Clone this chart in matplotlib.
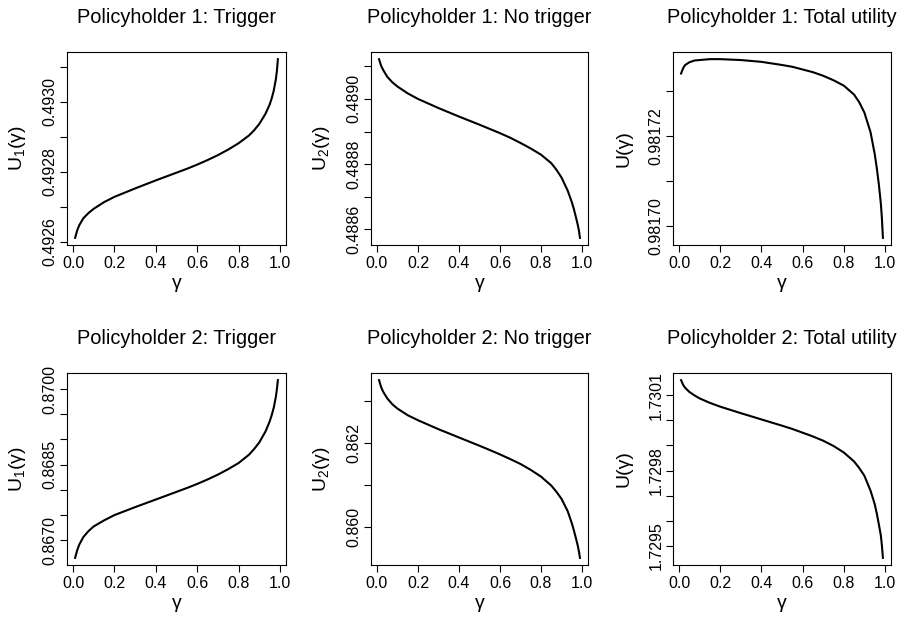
import matplotlib.pyplot as plt
import numpy as np

plt.rcParams['font.family'] = ['Liberation Sans', 'DejaVu Sans']
plt.rcParams['mathtext.fontset'] = 'custom'
plt.rcParams['mathtext.rm'] = 'Liberation Sans'

gamma = [0.01, 0.02, 0.03, 0.05, 0.075, 0.1, 0.15, 0.2, 0.3, 0.4, 0.5,
         0.55, 0.6, 0.65, 0.7, 0.75, 0.8, 0.85, 0.875, 0.9, 0.93, 0.95,
         0.96, 0.97, 0.98, 0.985, 0.99]

p1_trigger = [0.492612, 0.492633, 0.492648, 0.492668, 0.492683, 0.492695,
              0.492714, 0.492729, 0.492753, 0.492776, 0.492798, 0.492809,
              0.492821, 0.492834, 0.492848, 0.492864, 0.492882, 0.492904,
              0.492919, 0.492937, 0.492966, 0.492992, 0.493010, 0.493032,
              0.493064, 0.493087, 0.493122]
p1_notrigger = [0.489122, 0.489102, 0.489089, 0.489068, 0.489051, 0.489038,
                0.489017, 0.489000, 0.488972, 0.488946, 0.488921, 0.488908,
                0.488895, 0.488881, 0.488865, 0.488848, 0.488829, 0.488803,
                0.488783, 0.488759, 0.488719, 0.488684, 0.488663, 0.488638,
                0.488612, 0.488596, 0.488574]
p1_total = [0.9817340, 0.9817352, 0.9817359, 0.9817365, 0.9817369, 0.9817370,
            0.9817372, 0.9817372, 0.9817370, 0.9817366, 0.9817359, 0.9817355,
            0.9817349, 0.9817343, 0.9817335, 0.9817325, 0.9817313, 0.9817293,
            0.9817276, 0.9817253, 0.9817209, 0.9817161, 0.9817130, 0.9817094,
            0.9817050, 0.9817018, 0.9816974]
p2_trigger = [0.866651, 0.866803, 0.866914, 0.867066, 0.867184, 0.867276,
              0.867395, 0.867500, 0.867658, 0.867809, 0.867961, 0.868037,
              0.868118, 0.868207, 0.868303, 0.868412, 0.868533, 0.868697,
              0.868810, 0.868941, 0.869158, 0.869355, 0.869480, 0.869632,
              0.869842, 0.869990, 0.870178]
p2_notrigger = [0.863496, 0.863331, 0.863220, 0.863062, 0.862920, 0.862818,
                0.862660, 0.862541, 0.862328, 0.862131, 0.861934, 0.861833,
                0.861728, 0.861617, 0.861500, 0.861360, 0.861200, 0.860987,
                0.860840, 0.860671, 0.860379, 0.860095, 0.859925, 0.859740,
                0.859542, 0.859415, 0.859266]
p2_total = [1.730161, 1.730142, 1.730130, 1.730114, 1.730100, 1.730088,
            1.730070, 1.730055, 1.730029, 1.730004, 1.729979, 1.729966,
            1.729951, 1.729936, 1.729919, 1.729898, 1.729872, 1.729836,
            1.729810, 1.729779, 1.729719, 1.729666, 1.729629, 1.729586,
            1.729540, 1.729500, 1.729451]

titles = ['Policyholder 1: Trigger', 'Policyholder 1: No trigger',
          'Policyholder 1: Total utility', 'Policyholder 2: Trigger',
          'Policyholder 2: No trigger', 'Policyholder 2: Total utility']
ylabels = [r'$\mathrm{U}_1$(γ)', r'$\mathrm{U}_2$(γ)', 'U(γ)',
           r'$\mathrm{U}_1$(γ)', r'$\mathrm{U}_2$(γ)', 'U(γ)']
series = [p1_trigger, p1_notrigger, p1_total,
          p2_trigger, p2_notrigger, p2_total]

# y ticks, and the labels R actually printed on them
yticks = [
    [0.4926, 0.4927, 0.4928, 0.4929, 0.4930, 0.4931],
    [0.4886, 0.4887, 0.4888, 0.4889, 0.4890, 0.4891],
    [0.98170, 0.98171, 0.98172, 0.98173],
    [0.8670, 0.8675, 0.8680, 0.8685, 0.8690, 0.8695, 0.8700],
    [0.860, 0.861, 0.862, 0.863],
    [1.7295, 1.7296, 1.7297, 1.7298, 1.7299, 1.7300, 1.7301],
]
ytick_text = [
    ['0.4926', '', '0.4928', '', '0.4930', ''],
    ['0.4886', '', '0.4888', '', '0.4890', ''],
    ['0.98170', '', '0.98172', ''],
    ['0.8670', '', '', '0.8685', '', '', '0.8700'],
    ['0.860', '', '0.862', ''],
    ['1.7295', '', '', '1.7298', '', '', '1.7301'],
]

W, H = 905, 618
fig = plt.figure(figsize=(W / 100, H / 100), dpi=100)

lefts = [67, 371, 673]
widths = [219, 217, 218]
tops = [52, 373]
heights = [193, 192]

for i in range(6):
    r, c = divmod(i, 3)
    ax = fig.add_axes([lefts[c] / W, 1 - (tops[r] + heights[r]) / H,
                       widths[c] / W, heights[r] / H])
    y = np.array(series[i])
    ax.plot(gamma, y, color='black', lw=1.5, solid_joinstyle='round')

    # R-style 4% padding
    x0, x1 = min(gamma), max(gamma)
    dx = (x1 - x0) * 0.04
    ax.set_xlim(x0 - dx, x1 + dx)
    dy = (y.max() - y.min()) * 0.04
    ax.set_ylim(y.min() - dy, y.max() + dy)

    ax.set_xticks([0.0, 0.2, 0.4, 0.6, 0.8, 1.0])
    ax.set_xticklabels(['0.0', '0.2', '0.4', '0.6', '0.8', '1.0'])
    ax.set_yticks(yticks[i])
    ax.set_yticklabels(ytick_text[i], rotation=90, va='center')
    ax.tick_params(axis='both', direction='out', length=5, width=0.8,
                   labelsize=11.5, color='black')
    ax.tick_params(axis='x', pad=3)
    ax.tick_params(axis='y', pad=2)
    for s in ax.spines.values():
        s.set_linewidth(0.8)

    ax.set_title(titles[i], fontsize=14.4, pad=21)
    ax.set_xlabel('γ', fontsize=14, va='center')
    ax.xaxis.set_label_coords(0.5, -38 / heights[r])
    ax.set_ylabel(ylabels[i], fontsize=14, va='center')
    ax.yaxis.set_label_coords(-(67 - 18) / widths[c], 0.5)

fig.savefig('out.png', dpi=100)
